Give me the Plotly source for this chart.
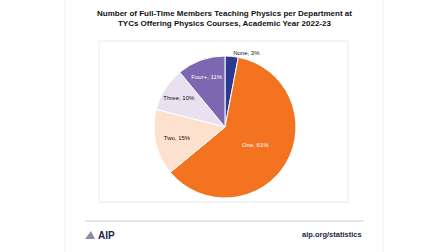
import plotly.graph_objects as go

categories = ["None", "One", "Two", "Three", "Four+"]
shares = [3, 61, 15, 10, 11]
colors = ["#2E3A8F", "#F47321", "#FDE1CF", "#E9E1EF", "#7D67B0"]
text_colors = ["#111111", "#FFFFFF", "#111111", "#111111", "#FFFFFF"]
positions = ["outside", "inside", "inside", "inside", "inside"]
title_lines = ["Number of Full-Time Members Teaching Physics per Department at",
               "TYCs Offering Physics Courses, Academic Year 2022-23"]

W, H = 448, 252

def px(x):
    return x / W

def py(y):
    return 1 - y / H

labels_txt = [f"{c}, {s}%" for c, s in zip(categories, shares)]

R = 71
CX, CY = 225, 127

fig = go.Figure(go.Pie(
    labels=categories,
    values=shares,
    text=labels_txt,
    textinfo="text",
    textposition=positions,
    insidetextorientation="horizontal",
    textfont=dict(size=6, color=text_colors, family="Liberation Sans, Arial, sans-serif"),
    outsidetextfont=dict(size=6, color="#111111"),
    marker=dict(colors=colors, line=dict(color="white", width=1)),
    sort=False,
    direction="clockwise",
    rotation=0,
    hoverinfo="label+percent",
    showlegend=False,
    domain=dict(x=[px(CX - R), px(CX + R)], y=[py(CY + R), py(CY - R)]),
))

shapes = [
    dict(type="line", xref="paper", yref="paper", x0=px(65), x1=px(65), y0=0, y1=1,
         line=dict(color="#F0F0F0", width=1)),
    dict(type="line", xref="paper", yref="paper", x0=px(383), x1=px(383), y0=0, y1=1,
         line=dict(color="#F0F0F0", width=1)),
    dict(type="rect", xref="paper", yref="paper", x0=px(99), x1=px(348), y0=py(202), y1=py(41),
         line=dict(color="#EAEAEA", width=1), layer="below"),
    dict(type="line", xref="paper", yref="paper", x0=px(85), x1=px(364), y0=py(221), y1=py(221),
         line=dict(color="#D0D0D0", width=1)),
    dict(type="path", xref="paper", yref="paper",
         path=f"M {px(85)} {py(239)} L {px(91)} {py(231)} L {px(95)} {py(239)} Z",
         fillcolor="#8A8FA8", line=dict(width=0)),
]

annotations = [
    dict(text="<b>" + title_lines[0] + "<br>" + title_lines[1] + "</b>", x=0.5, y=py(19),
         xref="paper", yref="paper", xanchor="center", yanchor="middle", showarrow=False,
         font=dict(size=8, color="#111111", family="Liberation Sans, Arial"),
         align="center"),
    dict(text="<b>AIP</b>", x=px(96), y=py(235), xref="paper", yref="paper",
         xanchor="left", yanchor="middle", showarrow=False,
         font=dict(size=10, color="#1B1F4B", family="Liberation Sans, Arial")),
    dict(text="<b>aip.org/statistics</b>", x=px(364), y=py(234), xref="paper", yref="paper",
         xanchor="right", yanchor="middle", showarrow=False,
         font=dict(size=7.5, color="#1B1F4B", family="Liberation Sans, Arial")),
]

fig.update_layout(
    width=W, height=H, autosize=False,
    margin=dict(l=0, r=0, t=0, b=0),
    paper_bgcolor="white", plot_bgcolor="white",
    shapes=shapes, annotations=annotations,
)

fig.write_html("out.html", config={"displayModeBar": False},
               post_script="document.body.style.margin='0';")
